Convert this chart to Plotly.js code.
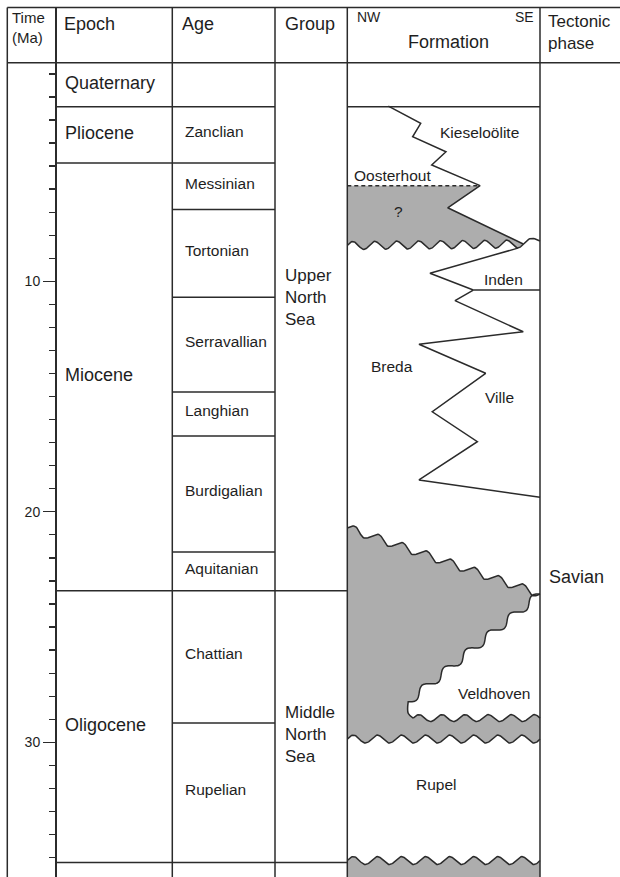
<!DOCTYPE html>
<html><head><meta charset="utf-8">
<script src="https://cdn.plot.ly/plotly-3.0.1.min.js"></script>
<style>html,body{margin:0;padding:0;background:#fff}#chart{width:620px;height:877px}</style>
</head><body><div id="chart"></div>
<script>
// ---------------- DATA ----------------
const epochNames = ['Quaternary', 'Pliocene', 'Miocene', 'Oligocene'];
const epochBounds = [0.52, 2.43, 4.87, 23.43, 35.22];
const ageNames = ['', 'Zanclian', 'Messinian', 'Tortonian', 'Serravallian', 'Langhian', 'Burdigalian', 'Aquitanian', 'Chattian', 'Rupelian'];
const ageBounds = [0.52, 2.43, 4.87, 6.88, 10.69, 14.80, 16.71, 21.74, 23.43, 29.16, 35.22];
const groupNames = ['Upper<br>North<br>Sea', 'Middle<br>North<br>Sea'];
const groupBounds = [0.52, 23.43, 35.22];
const groupLabelAges = [10.71, 29.68];
const tectonicPhases = ['Savian'];
const tectonicAges = [22.84];
const majorTickVals = [10, 20, 30];
const majorTickText = ['10', '20', '30'];
const minorTickVals = [1,2,3,4,5,6,7,8,9,11,12,13,14,15,16,17,18,19,21,22,23,24,25,26,27,28,29,31,32,33,34,35];

// Formation column: position across column (0 = NW, 1 = SE), age in Ma
const kieselPos = [0.213, 0.381, 0.339, 0.512, 0.438, 0.689, 0.521, 0.913];
const kieselAge = [2.40, 3.15, 3.73, 4.38, 4.95, 5.85, 6.81, 8.38];
const oosterhoutTopPos = [0, 0.689];
const oosterhoutTopAge = [5.85, 5.85];
const bredaPos = [0.885, 0.429, 0.654, 0.559, 0.913, 0.372, 0.718, 0.441, 0.675, 0.372, 1];
const bredaAge = [8.56, 9.65, 10.38, 10.84, 12.19, 12.73, 13.99, 15.66, 16.96, 18.62, 19.37];
const indenPos = [0.654, 1];
const indenAge = [10.38, 10.38];
// unconformities: [startPos, startAge, endPos, endAge]
const uncOosterhout = [0, 8.45, 0.913, 8.38];
const uncOosterhoutEast = [0.913, 8.38, 1, 8.25];
const uncSavianTop = [0, 20.70, 1, 23.57];
const uncVeldhovenTop = [1, 23.57, 0.316, 28.24];
const veldhovenCornerPos = [0.316, 0.316, 0.342];
const veldhovenCornerAge = [28.24, 28.74, 28.95];
const uncVeldhovenBase = [0.342, 28.95, 1, 28.95];
const uncRupelTop = [0, 29.86, 1, 29.86];
const uncRupelBase = [0, 35.13, 1, 35.13];

const formationLabels = ['Kieseloölite', 'Oosterhout', '?', 'Inden', 'Breda', 'Ville', 'Veldhoven', 'Rupel'];
const formationLabelPos = [0.687, 0.235, 0.265, 0.812, 0.231, 0.789, 0.760, 0.464];
const formationLabelAge = [3.55, 5.39, 6.98, 9.91, 13.71, 15.05, 27.87, 31.85];

// ---------------- LAYOUT CONSTANTS ----------------
const W = 620, H = 877;
const PX_PER_MA = 23.05, Y0 = 50.8;
const TOP = 7.5;
const yRange = [(H - Y0) / PX_PER_MA, (TOP - Y0) / PX_PER_MA];
const yDomTop = 1 - TOP / H;
const XL = 7.3, XT = 55, XE = 172.3, XA = 275, XG = 347.3, XF = 540;
const FONT = 'Liberation Sans, Arial, Helvetica, sans-serif';
const TXT = '#1e1e1e';
const LC = '#2b2b2b';
const LW = 1.5;
const GRAY = '#adadad';

function fx(p) { return XG + p * (XF - XG); }
function maToPx(m) { return Y0 + m * PX_PER_MA; }
function pxToMa(y) { return (y - Y0) / PX_PER_MA; }

function wavy(seg, waves, amp) {
  const x0 = fx(seg[0]), y0 = maToPx(seg[1]), x1 = fx(seg[2]), y1 = maToPx(seg[3]);
  const dx = x1 - x0, dy = y1 - y0, L = Math.hypot(dx, dy);
  let nx = dy / L, ny = -dx / L;
  if (ny > 0) { nx = -nx; ny = -ny; }
  const n = Math.max(8, Math.round(waves * 28));
  const xs = [], ys = [];
  for (let i = 0; i <= n; i++) {
    const t = i / n;
    const o = amp * Math.sin(2 * Math.PI * waves * t);
    xs.push(x0 + dx * t + nx * o);
    ys.push(pxToMa(y0 + dy * t + ny * o));
  }
  return { x: xs, y: ys };
}

const u1 = wavy(uncOosterhout, 8, 4);
const u1e = wavy(uncOosterhoutEast, 0.5, 4);
const u2 = wavy(uncSavianTop, 8, 4);
const u3 = wavy(uncVeldhovenTop, 6, 4);
const u4 = wavy(uncVeldhovenBase, 5.5, 3.5);
const u5 = wavy(uncRupelTop, 8, 4);
const u6 = wavy(uncRupelBase, 8, 4);
const corner = { x: veldhovenCornerPos.map(fx), y: veldhovenCornerAge.slice() };

const traces = [];
function fillTrace(xs, ys) {
  traces.push({ x: xs, y: ys, mode: 'lines', fill: 'toself', fillcolor: GRAY,
    line: { width: 0, color: GRAY }, hoverinfo: 'skip', showlegend: false });
}
function lineTrace(xs, ys, dash, shape) {
  traces.push({ x: xs, y: ys, mode: 'lines',
    line: { color: LC, width: LW, dash: dash || 'solid', shape: shape || 'linear' },
    hoverinfo: 'skip', showlegend: false });
}

// Gray: Oosterhout hiatus
{
  const xs = oosterhoutTopPos.map(fx).concat(kieselPos.slice(6).map(fx)).concat(u1.x.slice().reverse());
  const ys = oosterhoutTopAge.concat(kieselAge.slice(6)).concat(u1.y.slice().reverse());
  fillTrace(xs, ys);
}
// Gray: Savian hiatus
{
  const xs = u2.x.concat(u3.x, corner.x, u4.x, u5.x.slice().reverse());
  const ys = u2.y.concat(u3.y, corner.y, u4.y, u5.y.slice().reverse());
  fillTrace(xs, ys);
}
// Gray: below Rupel
{
  const xs = u6.x.concat([fx(1), fx(0)]);
  const ys = u6.y.concat([yRange[0], yRange[0]]);
  fillTrace(xs, ys);
}

// Lines
lineTrace(kieselPos.map(fx), kieselAge);
lineTrace(oosterhoutTopPos.map(fx), oosterhoutTopAge, '4px,3px');
lineTrace(bredaPos.map(fx), bredaAge);
lineTrace(indenPos.map(fx), indenAge);
lineTrace(u1.x.concat(u1e.x), u1.y.concat(u1e.y));
lineTrace(u2.x, u2.y);
lineTrace(u3.x.concat(corner.x), u3.y.concat(corner.y), null, 'spline');
lineTrace(u4.x, u4.y);
lineTrace(u5.x, u5.y);
lineTrace(u6.x, u6.y);

// ---------------- SHAPES ----------------
const shapes = [];
function hline(x0, x1, yv, ref) {
  shapes.push({ type: 'line', xref: 'x', yref: ref || 'y', x0: x0, x1: x1, y0: yv, y1: yv,
    line: { color: LC, width: LW } });
}
function vline(xv) {
  shapes.push({ type: 'line', xref: 'x', yref: 'paper', x0: xv, x1: xv, y0: 0, y1: yDomTop,
    line: { color: LC, width: LW } });
}
hline(XL, W, 1 - TOP / H, 'paper');
hline(XL, W, 1 - 62.7 / H, 'paper');
[XL, XE, XA, XG, XF].forEach(vline);
epochBounds.slice(1).forEach(b => hline(XT, XE, b));
ageBounds.slice(1).forEach(b => hline(XE, XA, b));
groupBounds.slice(1).forEach(b => hline(XA, XG, b));
hline(XG, XF, epochBounds[1]);

// ---------------- ANNOTATIONS ----------------
const ann = [];
function txt(text, x, y, size, xanchor, yref, align) {
  ann.push({ text: text, x: x, y: y, xref: 'x', yref: yref || 'y', showarrow: false,
    xanchor: xanchor || 'left', yanchor: 'middle', align: align || 'left', borderpad: 0, borderwidth: 0,
    font: { family: FONT, size: size, color: TXT } });
}
function htxt(text, x, ypx, size, xanchor) { txt(text, x, 1 - ypx / H, size, xanchor, 'paper', xanchor === 'center' ? 'center' : 'left'); }

htxt('Time<br>(Ma)', 12, 28, 15);
htxt('Epoch', 64, 24, 18);
htxt('Age', 182, 24, 18);
htxt('Group', 285, 24, 18);
htxt('NW', 357, 17, 14);
htxt('SE', 534, 17, 14, 'right');
htxt('Formation', 448, 42, 18, 'center');
htxt('Tectonic<br>phase', 548, 33, 17);

const off = 1.5 / PX_PER_MA;
epochNames.forEach((n, i) => txt(n, 65, (epochBounds[i] + epochBounds[i + 1]) / 2 - off, 18));
ageNames.forEach((n, i) => { if (n) txt(n, 185, (ageBounds[i] + ageBounds[i + 1]) / 2 - 2 * off, 15.5); });
groupNames.forEach((n, g) => txt(n, 285, groupLabelAges[g], 17));
tectonicPhases.forEach((n, i) => txt(n, 549, tectonicAges[i], 18));
formationLabels.forEach((n, i) => txt(n, fx(formationLabelPos[i]), formationLabelAge[i], 15.5, 'center', 'y', 'center'));

// ---------------- LAYOUT ----------------
const layout = {
  width: W, height: H,
  margin: { l: 0, r: 0, t: 0, b: 0, pad: 0 },
  paper_bgcolor: '#ffffff', plot_bgcolor: 'rgba(0,0,0,0)',
  showlegend: false,
  xaxis: { range: [0, W], domain: [0, 1], visible: false, fixedrange: true },
  yaxis: {
    domain: [0, yDomTop], range: yRange, anchor: 'free', position: XT / W, side: 'left',
    showline: true, linecolor: LC, linewidth: LW, showgrid: false, zeroline: false,
    ticks: 'outside', ticklen: 12, tickwidth: 1.3, tickcolor: LC,
    tickmode: 'array', tickvals: majorTickVals, ticktext: majorTickText,
    tickfont: { family: FONT, size: 14, color: TXT },
    minor: { tickmode: 'array', tickvals: minorTickVals, ticks: 'outside', ticklen: 6, tickwidth: 1.3, tickcolor: LC, showgrid: false },
    automargin: false, fixedrange: true
  },
  shapes: shapes,
  annotations: ann
};

Plotly.newPlot('chart', traces, layout, { staticPlot: true, displayModeBar: false });
</script>
</body></html>
